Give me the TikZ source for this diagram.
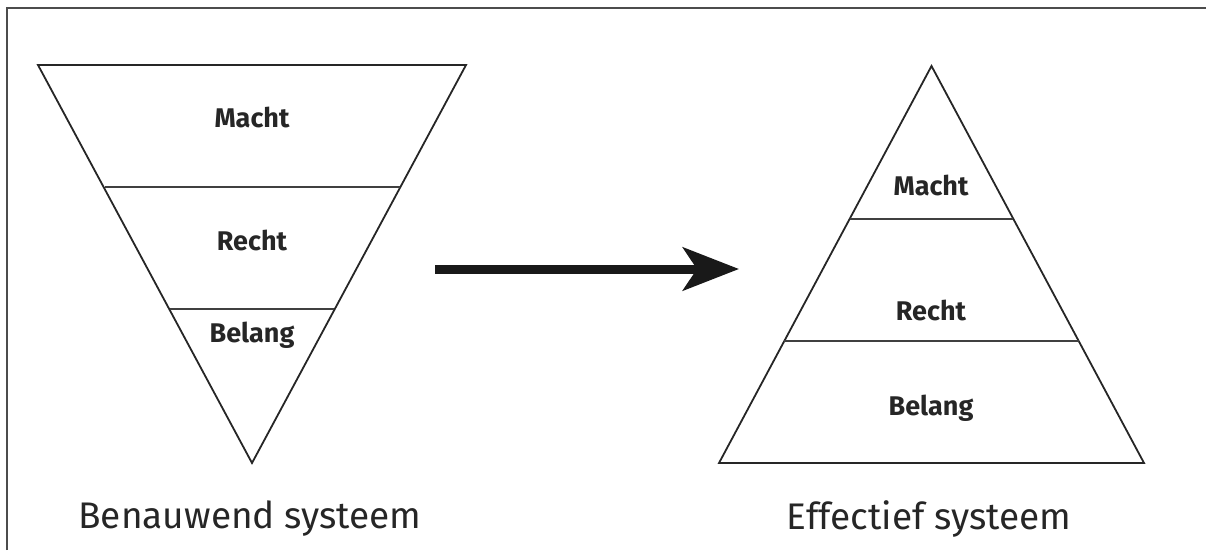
\documentclass[tikz,border=0pt]{standalone}
\usepackage{fontspec}
\setmainfont{Fira Sans}
\usetikzlibrary{arrows.meta}
\begin{document}
\begin{tikzpicture}[x=1pt,y=-1pt,
  outline/.style={line width=1.8pt,draw=black!85},
  divider/.style={line width=1.2pt,draw=black!75},
  lab/.style={font=\fontsize{27}{32}\selectfont\bfseries,text=black!85},
  captiontext/.style={font=\fontsize{37}{44}\selectfont,text=black!85}]
\useasboundingbox (0,0) rectangle (1206,550);
% frame
\draw[line width=1.6pt,black!70] (7,550) -- (7,8) -- (1206,8);
% inverted triangle
\draw[outline,line join=miter] (38,65) -- (466,65) -- (252,463) -- cycle;
\draw[divider] (104.5,187) -- (399.5,187);
\draw[divider] (170,309) -- (334,309);
\node[lab] (m1) at (252,117) {Macht};
\node[lab] (r1) at (252,240) {Recht};
\node[lab] (b1) at (252,335) {Belang};
% pyramid
\draw[outline,line join=miter] (719,463) -- (931.5,66) -- (1144,463) -- cycle;
\draw[divider] (849.6,219) -- (1013.4,219);
\draw[divider] (784,341) -- (1079,341);
\node[lab] (m2) at (931,185) {Macht};
\node[lab] (r2) at (931,310) {Recht};
\node[lab] (b2) at (931,408) {Belang};
% arrow
\coordinate (a0) at (435,269);
\coordinate (a1) at (739,269);
\draw[line width=9pt,black!90,-{Stealth[length=56pt,width=43pt,inset=14pt]}] (a0) -- (a1);
% captions
\node[captiontext] (c1) at (250,519) {Benauwend systeem};
\node[captiontext] (c2) at (929,519) {Effectief systeem};
\end{tikzpicture}
\end{document}
